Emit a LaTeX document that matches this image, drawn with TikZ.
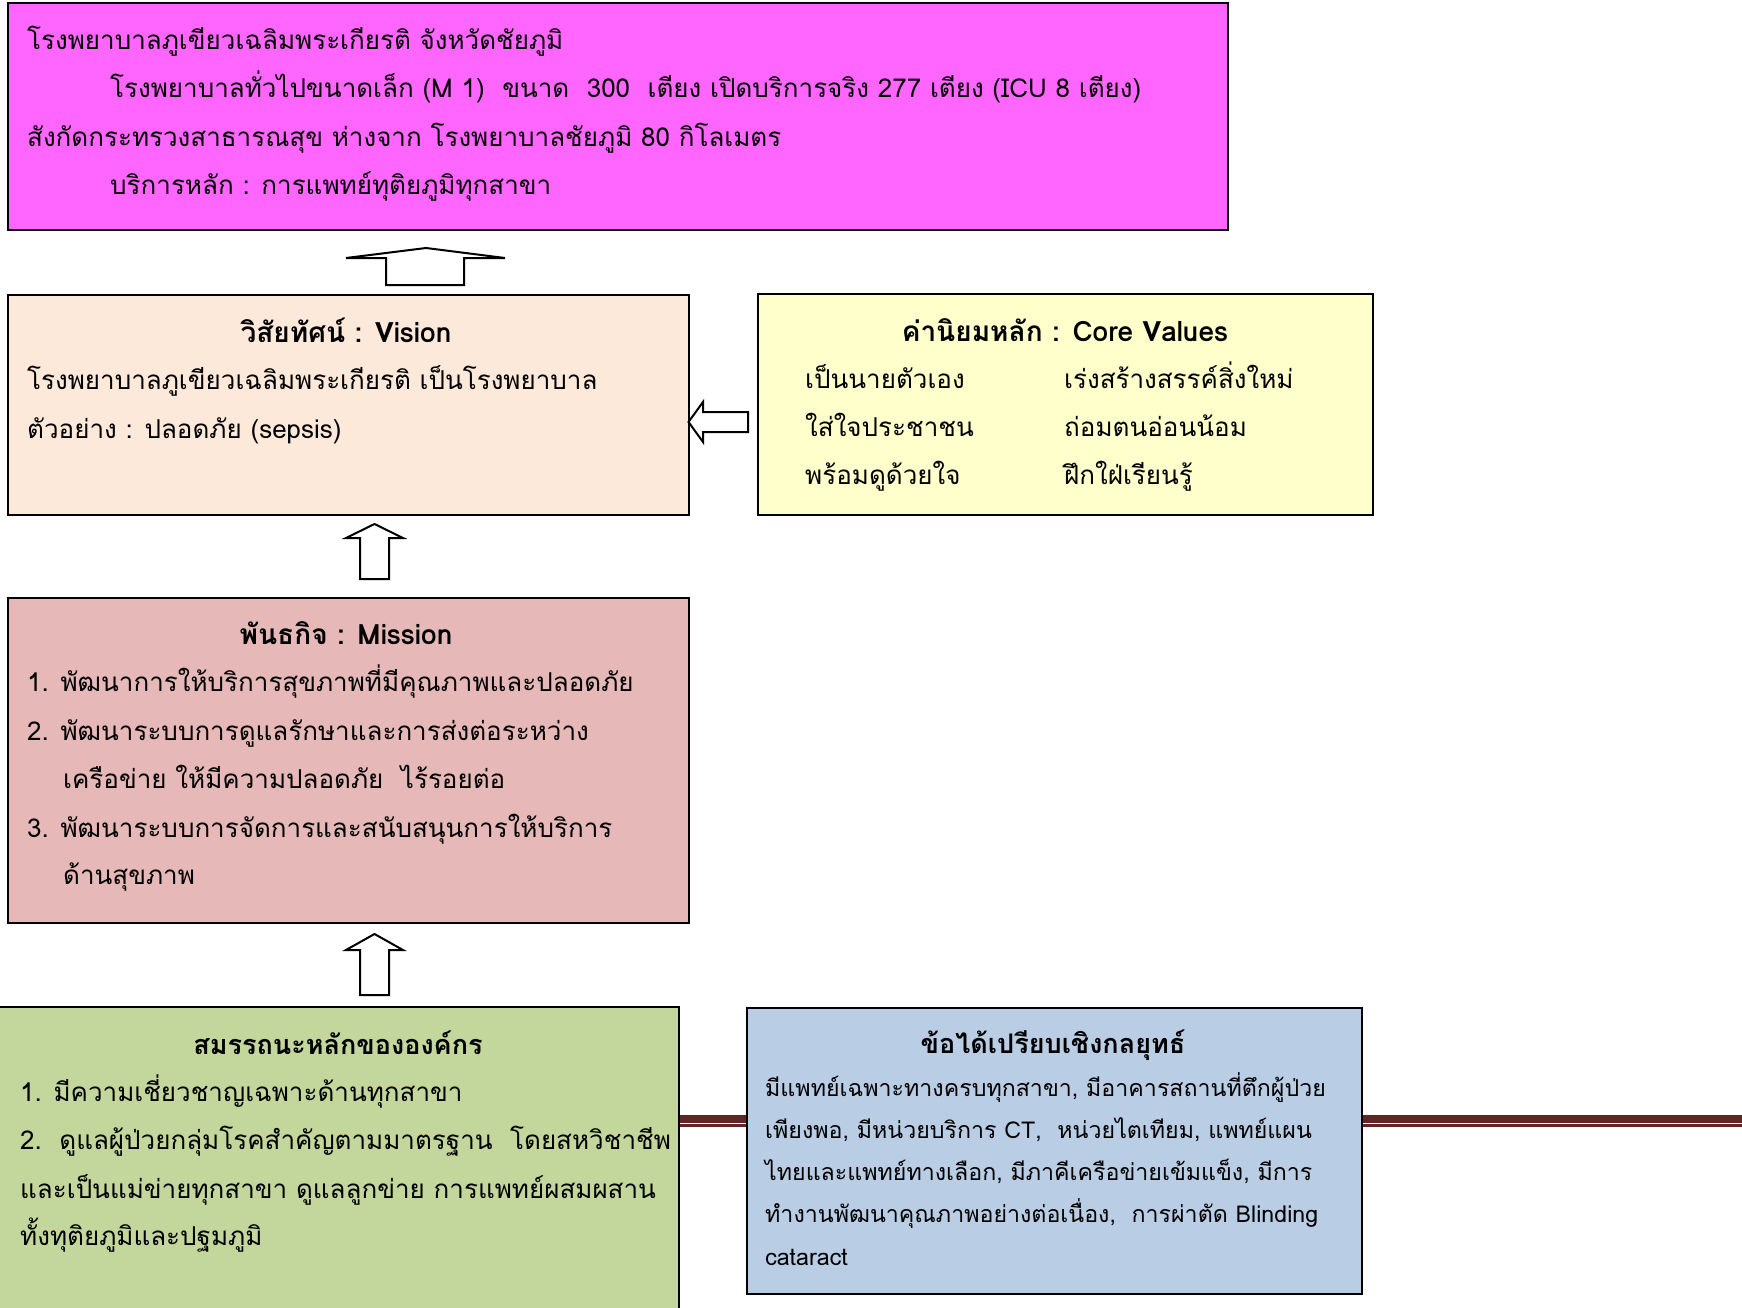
\documentclass[tikz,border=0pt]{standalone}
\usepackage{fontspec}
\setmainfont{Loma}[Script=Thai]
\definecolor{cMag}{HTML}{FF66FF}
\definecolor{cPeach}{HTML}{FDE9D9}
\definecolor{cYel}{HTML}{FFFFCC}
\definecolor{cRose}{HTML}{E6B9B8}
\definecolor{cGreen}{HTML}{C3D69B}
\definecolor{cBlue}{HTML}{B9CDE5}
\definecolor{cDark}{HTML}{632523}
\tikzset{
  box/.style={draw=black, line width=2pt, inner sep=0pt, anchor=north west},
  txt/.style={anchor=base west, inner sep=0pt, font=\fontsize{26}{30}\selectfont},
  ttl/.style={anchor=base, inner sep=0pt, font=\fontsize{28}{32}\selectfont\bfseries},
  sttl/.style={anchor=base, inner sep=0pt, font=\fontsize{27}{32}\selectfont\bfseries},
  stxt/.style={anchor=base west, inner sep=0pt, font=\fontsize{23.2}{27}\selectfont},
  blockarrow/.style={draw=black, line width=2pt, fill=white, line join=miter}
}
\begin{document}
\begin{tikzpicture}[x=1pt,y=-1pt]
\useasboundingbox (0,0) rectangle (1742,1308);
\clip (0,0) rectangle (1742,1308);
% double dark red line
\fill[cDark] (600,1115) rectangle (1742,1123);
\fill[cDark] (600,1124.3) rectangle (1742,1127);
% boxes
\node[box, fill=cMag, minimum width=1220pt, minimum height=227pt] (hosp) at (7,2) {};
\node[box, fill=cPeach, minimum width=681pt, minimum height=220pt] (vision) at (7,294) {};
\node[box, fill=cYel, minimum width=615pt, minimum height=221pt] (values) at (757,293) {};
\node[box, fill=cRose, minimum width=681pt, minimum height=325pt] (mission) at (7,597) {};
\fill[cGreen] (-2,1007) rectangle (679,1312);
\draw[line width=2pt] (-2,1007) -- (679,1007) -- (679,1312);
\coordinate (comp) at (0,1007);
\node[box, fill=cBlue, minimum width=615pt, minimum height=286pt] (adv) at (746,1007) {};
% top box text
\node[txt] (h1) at (27,50) {โรงพยาบาลภูเขียวเฉลิมพระเกียรติ จังหวัดชัยภูมิ};
\node[txt] (h2) at (110,98) {โรงพยาบาลทั่วไปขนาดเล็ก (M 1)\ \ ขนาด\ \ 300\ \ เตียง เปิดบริการจริง 277 เตียง (ICU 8 เตียง)};
\node[txt] (h3) at (27,147) {สังกัดกระทรวงสาธารณสุข ห่างจาก โรงพยาบาลชัยภูมิ 80 กิโลเมตร};
\node[txt] (h4) at (110,195) {บริการหลัก : การแพทย์ทุติยภูมิทุกสาขา};
% vision
\node[ttl] (vt) at (346,342) {วิสัยทัศน์ : Vision};
\node[txt] (v1) at (27,389) {โรงพยาบาลภูเขียวเฉลิมพระเกียรติ เป็นโรงพยาบาล};
\node[txt] (v2) at (27,438) {ตัวอย่าง : ปลอดภัย (sepsis)};
% values
\node[ttl] (cvt) at (1065,341) {ค่านิยมหลัก : Core Values};
\node[txt] (c11) at (805,388) {เป็นนายตัวเอง};
\node[txt] (c12) at (1064,388) {เร่งสร้างสรรค์สิ่งใหม่};
\node[txt] (c21) at (805,436) {ใส่ใจประชาชน};
\node[txt] (c22) at (1064,436) {ถ่อมตนอ่อนน้อม};
\node[txt] (c31) at (805,484) {พร้อมดูด้วยใจ};
\node[txt] (c32) at (1064,484) {ฝึกใฝ่เรียนรู้};
% mission
\node[ttl] (mt) at (346,644) {พันธกิจ : Mission};
\node[txt] (m1) at (27,691) {1. พัฒนาการให้บริการสุขภาพที่มีคุณภาพและปลอดภัย};
\node[txt] (m2) at (27,740) {2. พัฒนาระบบการดูแลรักษาและการส่งต่อระหว่าง};
\node[txt] (m3) at (63,788) {เครือข่าย ให้มีความปลอดภัย\ \ ไร้รอยต่อ};
\node[txt] (m4) at (27,837) {3. พัฒนาระบบการจัดการและสนับสนุนการให้บริการ};
\node[txt] (m5) at (63,884) {ด้านสุขภาพ};
% competencies
\node[sttl] (gt) at (338,1054) {สมรรถนะหลักขององค์กร};
\node[txt] (g1) at (20,1101) {1. มีความเชี่ยวชาญเฉพาะด้านทุกสาขา};
\node[txt] (g2) at (20,1149) {2.\ \ ดูแลผู้ป่วยกลุ่มโรคสำคัญตามมาตรฐาน\ \ โดยสหวิชาชีพ};
\node[txt] (g3) at (20,1198) {และเป็นแม่ข่ายทุกสาขา ดูแลลูกข่าย การแพทย์ผสมผสาน};
\node[txt] (g4) at (20,1245) {ทั้งทุติยภูมิและปฐมภูมิ};
% advantages
\node[sttl] (at) at (1053,1053) {ข้อได้เปรียบเชิงกลยุทธ์};
\node[stxt] (a1) at (765,1096) {มีแพทย์เฉพาะทางครบทุกสาขา, มีอาคารสถานที่ตึกผู้ป่วย};
\node[stxt] (a2) at (765,1138) {เพียงพอ, มีหน่วยบริการ CT,\ \ หน่วยไตเทียม, แพทย์แผน};
\node[stxt] (a3) at (765,1180) {ไทยและแพทย์ทางเลือก, มีภาคีเครือข่ายเข้มแข็ง, มีการ};
\node[stxt] (a4) at (765,1222) {ทำงานพัฒนาคุณภาพอย่างต่อเนื่อง,\ \ การผ่าตัด Blinding};
\node[stxt] (a5) at (765,1265) {cataract};
% block arrows
\draw[blockarrow] (386,285) -- (386,258) -- (346,258) -- (426,248) -- (505,258) -- (464,258) -- (464,285) -- cycle;
\draw[blockarrow] (360,579) -- (360,538) -- (346,538) -- (374.5,524) -- (403,538) -- (389,538) -- (389,579) -- cycle;
\draw[blockarrow] (360,995) -- (360,950) -- (346,950) -- (374.5,934) -- (403,950) -- (389,950) -- (389,995) -- cycle;
\draw[blockarrow] (748,412) -- (703,412) -- (703,402) -- (688.5,422) -- (703,442) -- (703,432) -- (748,432) -- cycle;
\end{tikzpicture}
\end{document}
